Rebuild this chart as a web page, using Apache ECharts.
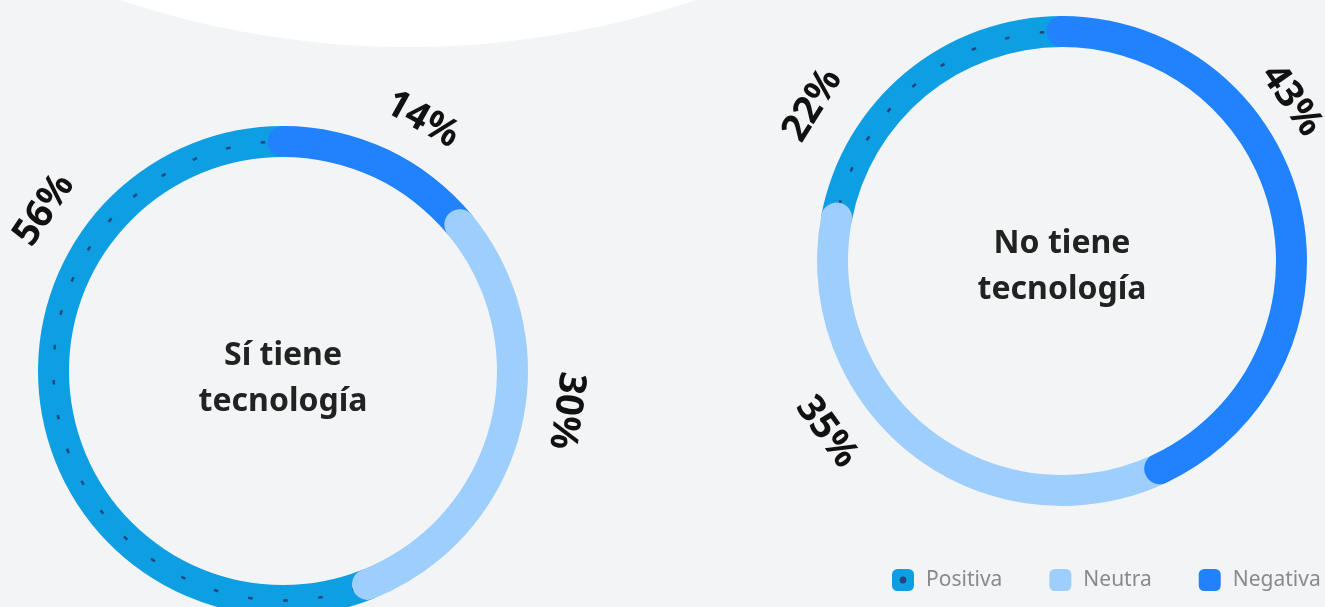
<!DOCTYPE html>
<html lang="es">
<head>
<meta charset="utf-8">
<title>Percepción según tecnología</title>
<script src="https://cdn.jsdelivr.net/npm/echarts@6/dist/echarts.min.js"></script>
<style>
  html, body { margin: 0; padding: 0; background: #f3f4f6; }
  #chart { width: 1325px; height: 607px; }
</style>
</head>
<body>
<div id="chart"></div>
<script>
// Categories and percentages for each group
const categories = ['Positiva', 'Neutra', 'Negativa'];
const siTieneTecnologia = [56, 30, 14];
const noTieneTecnologia = [22, 35, 43];
const groupTitles = ['Sí tiene\ntecnología', 'No tiene\ntecnología'];

// Styling and layout
const colors = { Positiva: '#0e9fe2', Neutra: '#9ecefb', Negativa: '#2182fe' };
const dotColor = '#23447e';
const stackOrder = ['Negativa', 'Neutra', 'Positiva']; // clockwise from 12 o'clock
const ringInner = 214, ringOuter = 245;
const rings = [
  {
    values: siTieneTecnologia, title: groupTitles[0],
    center: [283, 371], titleY: 379,
    z: { Positiva: 1, Negativa: 3, Neutra: 4 },
    // label placement: [clockwise degrees from top, distance from centre]
    labels: { Positiva: [304, 288], Neutra: [98, 286], Negativa: [29, 287] }
  },
  {
    values: noTieneTecnologia, title: groupTitles[1],
    center: [1062, 261], titleY: 267,
    z: { Positiva: 1, Neutra: 3, Negativa: 4 },
    labels: { Positiva: [302, 294], Neutra: [234, 291], Negativa: [55, 280] }
  }
];

const polar = [], angleAxis = [], radiusAxis = [], series = [], graphic = [];

// soft white backdrop shape at the top
graphic.push({ type: 'circle', shape: { cx: 408, cy: -859, r: 906 }, style: { fill: '#ffffff' }, z: 0, silent: true });

rings.forEach((ring, i) => {
  // ring coordinate system
  polar.push({ center: ring.center, radius: [ringInner, ringOuter] });
  angleAxis.push({
    polarIndex: polar.length - 1, type: 'value', min: 0, max: 100, startAngle: 90, clockwise: true,
    axisLine: { show: false }, axisTick: { show: false }, axisLabel: { show: false }, splitLine: { show: false }
  });
  radiusAxis.push({ polarIndex: polar.length - 1, type: 'category', data: ['total'], show: false });
  const ringPolar = polar.length - 1;

  // dotted track along the middle of the ring (visible on the Positiva arc)
  const mid = (ringInner + ringOuter) / 2;
  polar.push({ center: ring.center, radius: mid - 1.25 });
  angleAxis.push({
    polarIndex: polar.length - 1, type: 'value', min: 0, max: 41, interval: 1,
    startAngle: 95, clockwise: true, z: 2,
    axisLine: { show: false },
    axisTick: { show: true, inside: false, length: 2.5, lineStyle: { color: dotColor, width: 4.5 } },
    axisLabel: { show: false }, splitLine: { show: false }
  });
  radiusAxis.push({ polarIndex: polar.length - 1, type: 'value', min: 0, max: 1, show: false });

  stackOrder.forEach(name => {
    const v = ring.values[categories.indexOf(name)];
    series.push({
      name, type: 'bar', coordinateSystem: 'polar', polarIndex: ringPolar,
      stack: 'ring' + i, roundCap: true, barWidth: ringOuter - ringInner,
      data: [v], z: ring.z[name],
      itemStyle: { color: colors[name] },
      emphasis: { disabled: true }, silent: true
    });

    // tangential percentage label
    const [deg, r] = ring.labels[name];
    const a = deg * Math.PI / 180;
    let rot = -deg;
    if (deg > 180 && deg < 270) rot += 180;
    graphic.push({
      type: 'text',
      x: ring.center[0] + r * Math.sin(a),
      y: ring.center[1] - r * Math.cos(a),
      rotation: rot * Math.PI / 180,
      z: 10,
      style: {
        text: v + '%', fill: '#111111',
        fontFamily: 'Noto Sans', fontWeight: 'bold', fontSize: 38,
        align: 'center', verticalAlign: 'middle'
      }
    });
  });

  // group title in the centre of the ring
  graphic.push({
    type: 'text', x: ring.center[0], y: ring.titleY, z: 10,
    style: {
      text: ring.title, fill: '#222222',
      fontFamily: 'Noto Sans', fontWeight: 'bold', fontSize: 32, lineHeight: 46,
      align: 'center', verticalAlign: 'middle'
    }
  });
});

// centre dot of the Positiva legend marker
const legendLeft = 892, legendTop = 569, legendIcon = 22;
graphic.push({
  type: 'circle', z: 20,
  shape: { cx: legendLeft + legendIcon / 2, cy: legendTop + legendIcon / 2, r: 3.4 },
  style: { fill: dotColor }
});

const chart = echarts.init(document.getElementById('chart'));
chart.setOption({
  backgroundColor: '#f3f4f6',
  animation: false,
  polar, angleAxis, radiusAxis, series, graphic,
  legend: {
    data: categories, left: legendLeft, top: legendTop, width: 1325 - legendLeft, padding: 0,
    orient: 'horizontal', icon: 'roundRect',
    itemWidth: legendIcon, itemHeight: legendIcon, itemGap: 47,
    selectedMode: false,
    textStyle: { color: '#8a8a8a', fontSize: 21, fontFamily: 'Noto Sans', padding: [0, 0, 0, 7] }
  }
});
</script>
</body>
</html>
